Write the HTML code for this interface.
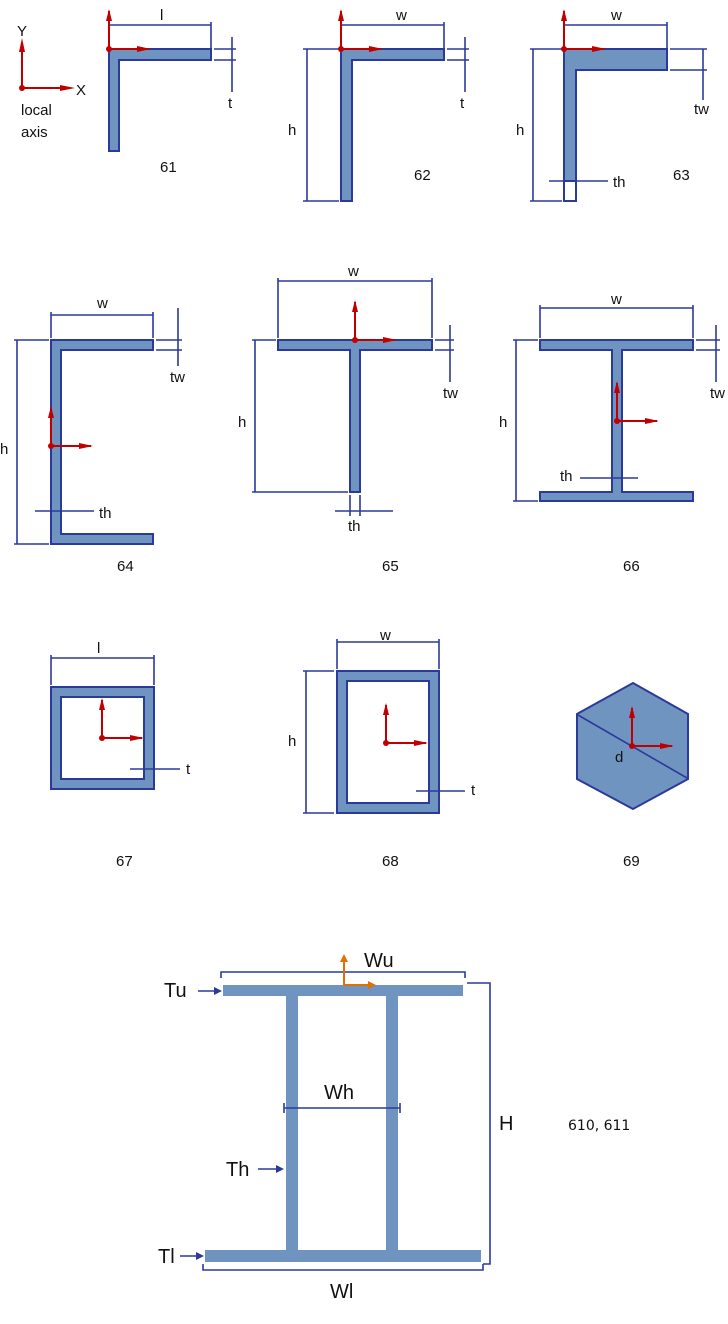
<!DOCTYPE html>
<html><head><meta charset="utf-8"><style>
html,body{margin:0;padding:0;background:#fff;}
svg{display:block}
text{font-family:"Liberation Sans",sans-serif;font-size:15px;fill:#111}
.s{fill:#7094c0;stroke:#2b3a9a;stroke-width:2}
.d{stroke:#2b3a9a;stroke-width:1.6;fill:none}
.r{stroke:#c00000;stroke-width:2;fill:none}
.rf{fill:#c00000}
.b{fill:#7094c0}
.o{stroke:#e07000;stroke-width:2;fill:none}
</style></head><body>
<svg width="728" height="1324" viewBox="0 0 728 1324" xmlns="http://www.w3.org/2000/svg">
<defs>
<g id="ax">
<line class="r" x1="0" y1="0" x2="0" y2="-38"/><polygon class="rf" points="-3,-28 3,-28 0,-40"/>
<line class="r" x1="0" y1="0" x2="40" y2="0"/><polygon class="rf" points="28,-3 28,3 42,0"/>
<circle class="rf" r="3"/>
</g>
</defs>

<!-- local axis -->
<line class="r" x1="22" y1="88" x2="22" y2="52"/><polygon class="rf" points="19,52 25,52 22,38"/>
<line class="r" x1="22" y1="88" x2="62" y2="88"/><polygon class="rf" points="60,85 60,91 75,88"/>
<circle class="rf" cx="22" cy="88" r="3"/>
<text x="17" y="36">Y</text><text x="76" y="95">X</text>
<text x="21" y="115">local</text><text x="21" y="137">axis</text>

<!-- 61 -->
<polygon class="s" points="109,49 211,49 211,60 119,60 119,151 109,151"/>
<line class="d" x1="109" y1="25" x2="211" y2="25"/><line class="d" x1="211" y1="22" x2="211" y2="49"/>
<line class="d" x1="214" y1="49" x2="236" y2="49"/><line class="d" x1="214" y1="60" x2="236" y2="60"/>
<line class="d" x1="232" y1="37" x2="232" y2="92"/>
<text x="160" y="20">l</text><text x="228" y="108">t</text><text x="160" y="172">61</text>
<use href="#ax" x="109" y="49"/>

<!-- 62 -->
<polygon class="s" points="341,49 444,49 444,60 352,60 352,201 341,201"/>
<line class="d" x1="341" y1="25" x2="444" y2="25"/><line class="d" x1="444" y1="22" x2="444" y2="49"/>
<line class="d" x1="447" y1="49" x2="469" y2="49"/><line class="d" x1="447" y1="60" x2="469" y2="60"/>
<line class="d" x1="465" y1="37" x2="465" y2="92"/>
<line class="d" x1="307" y1="49" x2="307" y2="201"/><line class="d" x1="303" y1="49" x2="339" y2="49"/><line class="d" x1="303" y1="201" x2="339" y2="201"/>
<text x="396" y="20">w</text><text x="460" y="108">t</text><text x="288" y="135">h</text><text x="414" y="180">62</text>
<use href="#ax" x="341" y="49"/>

<!-- 63 -->
<polygon class="s" points="564,49 667,49 667,70 576,70 576,181 564,181"/>
<rect x="564" y="181" width="12" height="20" fill="none" stroke="#2b3a9a" stroke-width="2"/>
<line class="d" x1="564" y1="25" x2="667" y2="25"/><line class="d" x1="667" y1="22" x2="667" y2="49"/>
<line class="d" x1="670" y1="49" x2="707" y2="49"/><line class="d" x1="670" y1="70" x2="707" y2="70"/>
<line class="d" x1="703" y1="49" x2="703" y2="100"/>
<line class="d" x1="533" y1="49" x2="533" y2="201"/><line class="d" x1="530" y1="49" x2="562" y2="49"/><line class="d" x1="530" y1="201" x2="562" y2="201"/>
<line class="d" x1="549" y1="181" x2="608" y2="181"/>
<text x="611" y="20">w</text><text x="694" y="114">tw</text><text x="516" y="135">h</text><text x="613" y="187">th</text><text x="673" y="180">63</text>
<use href="#ax" x="564" y="49"/>

<!-- 64 -->
<polygon class="s" points="51,340 153,340 153,350 61,350 61,534 153,534 153,544 51,544"/>
<line class="d" x1="51" y1="315" x2="153" y2="315"/><line class="d" x1="51" y1="312" x2="51" y2="338"/><line class="d" x1="153" y1="312" x2="153" y2="338"/>
<line class="d" x1="156" y1="340" x2="182" y2="340"/><line class="d" x1="156" y1="350" x2="182" y2="350"/>
<line class="d" x1="178" y1="308" x2="178" y2="366"/>
<line class="d" x1="17" y1="340" x2="17" y2="544"/><line class="d" x1="14" y1="340" x2="49" y2="340"/><line class="d" x1="14" y1="544" x2="49" y2="544"/>
<line class="d" x1="35" y1="511" x2="94" y2="511"/>
<text x="97" y="308">w</text><text x="170" y="382">tw</text><text x="0" y="454">h</text><text x="99" y="518">th</text><text x="117" y="571">64</text>
<use href="#ax" x="51" y="446"/>

<!-- 65 -->
<polygon class="s" points="278,340 432,340 432,350 360,350 360,492 350,492 350,350 278,350"/>
<line class="d" x1="278" y1="281" x2="432" y2="281"/><line class="d" x1="278" y1="278" x2="278" y2="338"/><line class="d" x1="432" y1="278" x2="432" y2="338"/>
<line class="d" x1="435" y1="340" x2="454" y2="340"/><line class="d" x1="435" y1="350" x2="454" y2="350"/>
<line class="d" x1="450" y1="325" x2="450" y2="382"/>
<line class="d" x1="255" y1="340" x2="255" y2="492"/><line class="d" x1="252" y1="340" x2="276" y2="340"/><line class="d" x1="252" y1="492" x2="348" y2="492"/>
<line class="d" x1="335" y1="511" x2="393" y2="511"/><line class="d" x1="350" y1="495" x2="350" y2="516"/><line class="d" x1="360" y1="495" x2="360" y2="516"/>
<text x="348" y="276">w</text><text x="443" y="398">tw</text><text x="238" y="427">h</text><text x="348" y="531">th</text><text x="382" y="571">65</text>
<use href="#ax" x="355" y="340"/>

<!-- 66 -->
<polygon class="s" points="540,340 693,340 693,350 622,350 622,492 693,492 693,501 540,501 540,492 612,492 612,350 540,350"/>
<line class="d" x1="540" y1="308" x2="693" y2="308"/><line class="d" x1="540" y1="305" x2="540" y2="338"/><line class="d" x1="693" y1="305" x2="693" y2="338"/>
<line class="d" x1="696" y1="340" x2="720" y2="340"/><line class="d" x1="696" y1="350" x2="720" y2="350"/>
<line class="d" x1="716" y1="325" x2="716" y2="382"/>
<line class="d" x1="516" y1="340" x2="516" y2="501"/><line class="d" x1="513" y1="340" x2="538" y2="340"/><line class="d" x1="513" y1="501" x2="538" y2="501"/>
<line class="d" x1="580" y1="478" x2="638" y2="478"/>
<text x="611" y="304">w</text><text x="710" y="398">tw</text><text x="499" y="427">h</text><text x="560" y="481">th</text><text x="623" y="571">66</text>
<use href="#ax" x="617" y="421"/>

<!-- 67 -->
<path class="s" fill-rule="evenodd" d="M51,687H154V789H51Z M61,697V779H144V697Z"/>
<line class="d" x1="51" y1="658" x2="154" y2="658"/><line class="d" x1="51" y1="655" x2="51" y2="685"/><line class="d" x1="154" y1="655" x2="154" y2="685"/>
<line class="d" x1="130" y1="769" x2="180" y2="769"/>
<text x="97" y="653">l</text><text x="186" y="774">t</text><text x="116" y="866">67</text>
<use href="#ax" x="102" y="738"/>

<!-- 68 -->
<path class="s" fill-rule="evenodd" d="M337,671H439V813H337Z M347,681V803H429V681Z"/>
<line class="d" x1="337" y1="642" x2="439" y2="642"/><line class="d" x1="337" y1="639" x2="337" y2="669"/><line class="d" x1="439" y1="639" x2="439" y2="669"/>
<line class="d" x1="306" y1="671" x2="306" y2="813"/><line class="d" x1="303" y1="671" x2="334" y2="671"/><line class="d" x1="303" y1="813" x2="334" y2="813"/>
<line class="d" x1="416" y1="791" x2="465" y2="791"/>
<text x="380" y="640">w</text><text x="288" y="746">h</text><text x="471" y="795">t</text><text x="382" y="866">68</text>
<use href="#ax" x="386" y="743"/>

<!-- 69 -->
<polygon class="s" points="633,683 688,714 688,779 633,809 577,779 577,714"/>
<line class="d" x1="578" y1="715" x2="687" y2="778"/>
<text x="615" y="762">d</text><text x="623" y="866">69</text>
<use href="#ax" x="632" y="746"/>

<!-- bottom -->
<rect class="b" x="223" y="985" width="240" height="11"/>
<rect class="b" x="286" y="996" width="12" height="254"/>
<rect class="b" x="386" y="996" width="12" height="254"/>
<rect class="b" x="205" y="1250" width="276" height="12"/>
<path class="d" stroke-width="3" d="M221,978V972H465V978"/>
<path class="d" stroke-width="3" d="M467,983H490V1264H483"/>
<path class="d" stroke-width="3" d="M203,1264V1270H483V1264"/>
<line class="d" stroke-width="2" x1="284" y1="1108" x2="400" y2="1108"/>
<line class="d" x1="284" y1="1103" x2="284" y2="1113"/><line class="d" x1="400" y1="1103" x2="400" y2="1113"/>
<line class="d" stroke-width="2.5" x1="198" y1="991" x2="216" y2="991"/><polygon fill="#2b3a9a" points="214,987 214,995 222,991"/>
<line class="d" stroke-width="2.5" x1="258" y1="1169" x2="278" y2="1169"/><polygon fill="#2b3a9a" points="276,1165 276,1173 284,1169"/>
<line class="d" stroke-width="2.5" x1="180" y1="1256" x2="198" y2="1256"/><polygon fill="#2b3a9a" points="196,1252 196,1260 204,1256"/>
<line class="o" x1="344" y1="985" x2="344" y2="960"/><polygon fill="#e07000" points="340,962 348,962 344,954"/>
<line class="o" x1="344" y1="985" x2="370" y2="985"/><polygon fill="#e07000" points="368,981 368,989 376,985"/>
<text x="164" y="997" style="font-size:20px">Tu</text>
<text x="364" y="967" style="font-size:20px">Wu</text>
<text x="324" y="1099" style="font-size:20px">Wh</text>
<text x="226" y="1176" style="font-size:20px">Th</text>
<text x="158" y="1263" style="font-size:20px">Tl</text>
<text x="330" y="1298" style="font-size:20px">Wl</text>
<text x="499" y="1130" style="font-size:20px">H</text>
<text x="568" y="1130" style="font-family:'DejaVu Sans',sans-serif;font-size:14px">610, 611</text>
</svg>
</body></html>
